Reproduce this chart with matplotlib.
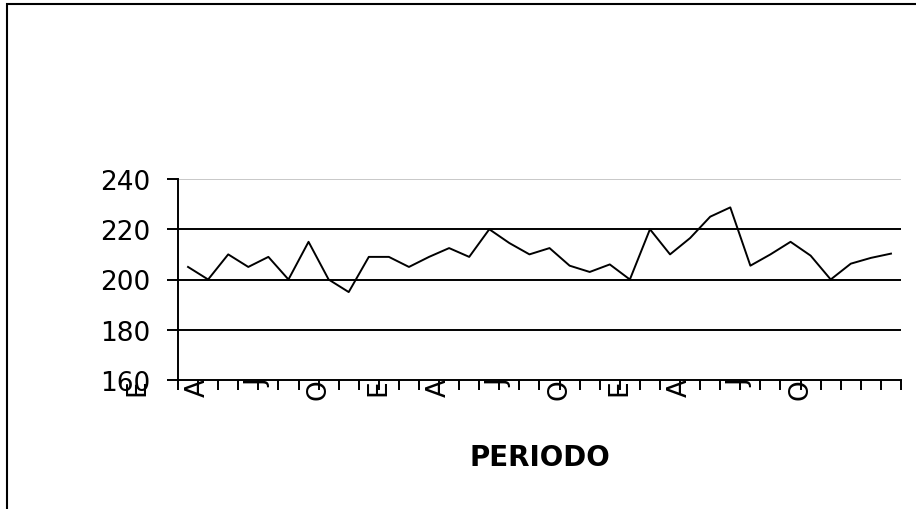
import numpy as np
import matplotlib.pyplot as plt
from matplotlib.patches import Rectangle
from matplotlib.transforms import blended_transform_factory

# serie mensual, tres años (36 periodos)
valores = [205, 200, 210, 205, 209, 200, 215, 200, 195, 209, 209, 205,
           209, 212.5, 209, 220, 214.5, 210, 212.5, 205.5, 203, 206,
           200, 220, 210, 216.5, 225, 228.7, 205.5, 210, 215, 209.5,
           200, 206.3, 208.6, 210.3]
# iniciales de los meses que aparecen en el eje de categorías
etiquetas = ['E', 'A', 'J', 'O', 'E', 'A', 'J', 'O', 'E', 'A', 'J', 'O']
yticks = [160, 180, 200, 220, 240]

plt.rcParams['font.family'] = 'DejaVu Sans'

fig = plt.figure(figsize=(9.16, 5.10), dpi=100)
ax = fig.add_axes([178 / 916, 1 - 381 / 510, 723 / 916, 201 / 510])

x = np.arange(len(valores))
ax.plot(x, valores, color='black', lw=1.4, zorder=3)

ax.set_xlim(-0.5, len(valores) - 0.5)
ax.set_ylim(160, 240)

# líneas de división horizontales
for v in yticks[1:-1]:
    ax.axhline(v, color='black', lw=1.4, zorder=1)
ax.axhline(yticks[-1], color='#c8c8c8', lw=1.4, zorder=1)

ax.spines['top'].set_visible(False)
ax.spines['right'].set_visible(False)
ax.spines['left'].set_linewidth(1.4)
ax.spines['bottom'].set_linewidth(1.4)

ax.set_yticks(yticks)
ax.tick_params(axis='y', direction='out', length=8, width=1.4, pad=12,
               labelsize=19)
ax.set_xticks(np.arange(len(valores) + 1) - 0.5)
ax.set_xticklabels([])
ax.tick_params(axis='x', direction='out', length=7, width=1.4)

# etiquetas de meses giradas, una cada tres periodos
trans = blended_transform_factory(ax.transData, ax.transAxes)
for k, et in enumerate(etiquetas):
    ax.text(3 * k - 2.5, 0.01, et, transform=trans, rotation=90,
            ha='center', va='top', fontsize=19, clip_on=False)

ax.set_xlabel('PERIODO', fontsize=20, fontweight='bold')
ax.xaxis.set_label_coords(0.5, -0.313)

# marco exterior del gráfico
fig.patches.append(Rectangle((7 / 916, -0.5), 2, 1.5 - 5 / 510,
                             transform=fig.transFigure, fill=False,
                             edgecolor='black', lw=1.5))

fig.savefig('out.png', dpi=100)
